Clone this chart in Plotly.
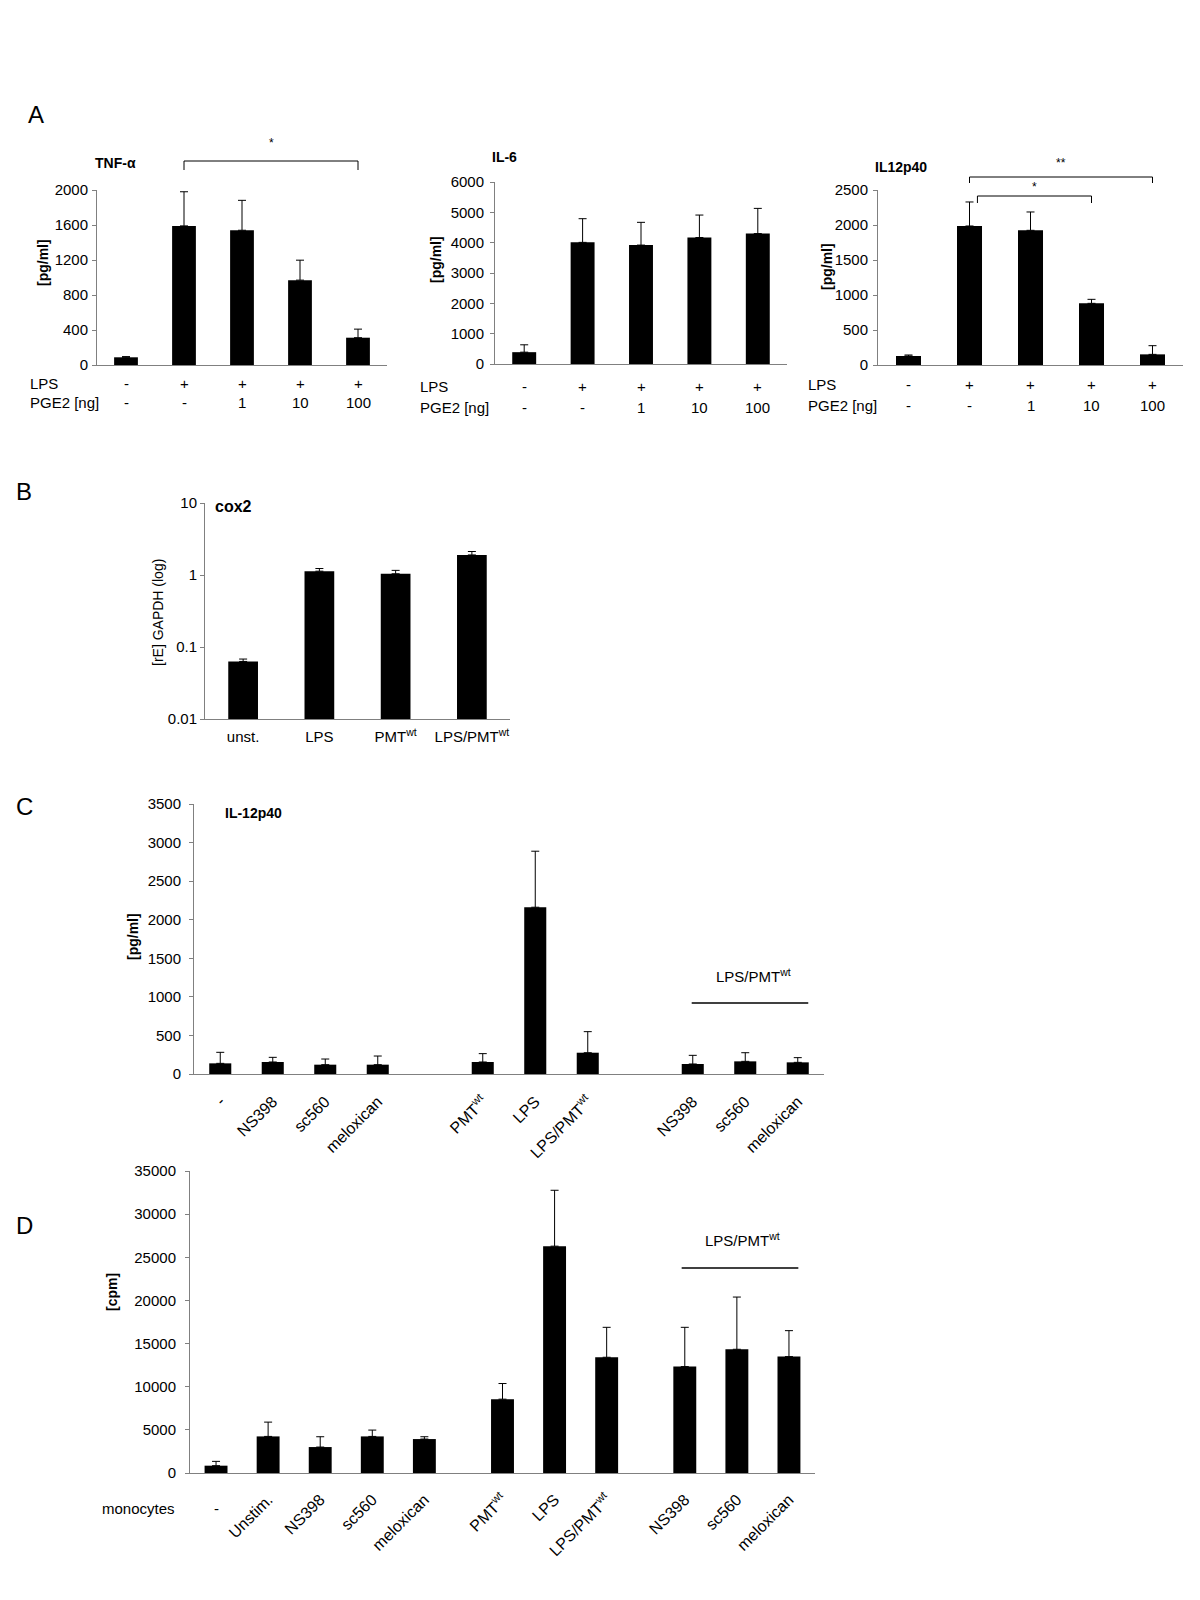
import plotly.graph_objects as go

# ---------------- DATA ----------------
# Panel A (ELISA, PGE2 titration)
A_lps = ["-", "+", "+", "+", "+"]
A_pge2 = ["-", "-", "1", "10", "100"]
tnf_mean = [88, 1590, 1540, 970, 312]
tnf_err = [8, 390, 342, 228, 98]
il6_mean = [390, 4010, 3920, 4170, 4300]
il6_err = [243, 780, 750, 740, 830]
il12_mean = [129, 1986, 1924, 881, 152]
il12_err = [14, 343, 262, 57, 124]

# Panel B (cox2 qPCR, log scale)
cox2_labels = ["unst.", "LPS", "PMT<sup>wt</sup>", "LPS/PMT<sup>wt</sup>"]
cox2_mean = [0.063, 1.13, 1.04, 1.90]
cox2_err = [0.005, 0.10, 0.12, 0.22]

# Panel C (IL-12p40)
C_labels = ["-", "NS398", "sc560", "meloxican", "PMT<sup>wt</sup>", "LPS",
            "LPS/PMT<sup>wt</sup>", "NS398", "sc560", "meloxican"]
C_mean = [138, 156, 121, 121, 156, 2162, 276, 130, 164, 151]
C_err = [143, 60, 73, 112, 108, 726, 273, 112, 112, 61]

# Panel D (proliferation, cpm)
D_labels = ["-", "Unstim.", "NS398", "sc560", "meloxican", "PMT<sup>wt</sup>", "LPS",
            "LPS/PMT<sup>wt</sup>", "NS398", "sc560", "meloxican"]
D_mean = [848, 4241, 3007, 4241, 3933, 8558, 26289, 13414, 12335, 14339, 13491]
D_err = [501, 1657, 1195, 732, 269, 1811, 6476, 3469, 4548, 6052, 3007]

# ---------------- LAYOUT HELPERS ----------------
W, H = 1200, 1600
OFF = 8  # page body margin offset
C_slots = [0, 1, 2, 3, 5, 6, 7, 9, 10, 11]
D_slots = [0, 1, 2, 3, 4, 5.5, 6.5, 7.5, 9, 10, 11]
FONT = "Liberation Sans, Arial, sans-serif"
AXC = "#808080"


def px(x):
    return (x - OFF) / W


def py(y):
    return 1 - (y - OFF) / H


fig = go.Figure()


def add_bars(xs, ys, err, n, width):
    fig.add_trace(go.Bar(
        x=xs, y=ys, width=width,
        marker=dict(color="black", line=dict(width=0)),
        error_y=dict(type="data", symmetric=False, array=err,
                     arrayminus=[0] * len(ys), color="black",
                     thickness=1, width=4),
        xaxis="x" + ("" if n == 1 else str(n)),
        yaxis="y" + ("" if n == 1 else str(n)),
        showlegend=False, hoverinfo="skip"))


def xax(n, x0, x1, rng, **kw):
    d = dict(domain=[px(x0), px(x1)], anchor="y" + ("" if n == 1 else str(n)),
             range=rng, showline=True, linecolor=AXC, linewidth=1,
             showgrid=False, zeroline=False, ticks="", fixedrange=True,
             automargin=False,
             tickfont=dict(family=FONT, size=15, color="black"))
    d.update(kw)
    return d


def yax(n, y_top, y_bottom, rng, **kw):
    d = dict(domain=[py(y_bottom), py(y_top)], anchor="x" + ("" if n == 1 else str(n)),
             range=rng, showline=True, linecolor=AXC, linewidth=1,
             showgrid=False, zeroline=False, ticks="outside", ticklen=4,
             tickcolor=AXC, fixedrange=True, automargin=False,
             tickfont=dict(family=FONT, size=15, color="black"))
    d.update(kw)
    return d


layout = dict(width=W, height=H, autosize=False,
              margin=dict(l=0, r=0, t=0, b=0, pad=0, autoexpand=False),
              paper_bgcolor="white", plot_bgcolor="white", showlegend=False,
              font=dict(family=FONT, size=15, color="black"))

annotations = []
shapes = []


def ann(text, x, y, size=15, xanchor="center", yanchor="middle", angle=0,
        xref="paper", yref="paper"):
    annotations.append(dict(text=text, x=x, y=y, xref=xref, yref=yref,
                            showarrow=False, xanchor=xanchor, yanchor=yanchor,
                            textangle=angle,
                            font=dict(family=FONT, size=size, color="black")))


# ---------------- PANEL A ----------------
A_x = list(range(len(A_lps)))
panelsA = [
    # n, x0, x1, ytop, ybot, ymax, dtick, mean, err, title, title_x, title_y, ylab_x, ylab_y, lps_y, row_label_x, standoff
    (1, 97, 387, 190, 365, 2000, 400, tnf_mean, tnf_err, "TNF-α", 93, 163, 43, 263, 383, 28, 1),
    (2, 495, 787, 182, 364, 6000, 1000, il6_mean, il6_err, "IL-6", 490, 157, 436, 260, 387, 418, 3),
    (3, 878, 1183, 190, 365, 2500, 500, il12_mean, il12_err, "IL12p40", 873, 167, 827, 267, 385, 806, 2),
]
for (n, x0, x1, yt, yb, ymax, dt, mean, err, title, tx, ty, ylx, yly, rowy, rlx, so) in panelsA:
    add_bars(A_x, mean, err, n, 0.41)
    s = "" if n == 1 else str(n)
    layout["xaxis" + s] = xax(n, x0, x1, [-0.5, len(A_x) - 0.5], showticklabels=False)
    layout["yaxis" + s] = yax(n, yt, yb, [0, ymax], dtick=dt, ticklabelstandoff=so)
    ann("<b>%s</b>" % title, px(tx), py(ty), size=14, xanchor="left")
    ann("<b>[pg/ml]</b>", px(ylx), py(yly), size=14, angle=-90)
    ann("LPS", px(rlx), py(rowy), xanchor="left")
    ann("PGE2 [ng]", px(rlx), py(rowy + 20), xanchor="left")
    for i in A_x:
        ann(A_lps[i], i, py(rowy), xref="x" + s)
        ann(A_pge2[i], i, py(rowy + 20), xref="x" + s)


# significance brackets
def bracket(xref, xa, xb, ytop, drop, star, star_y):
    shapes.append(dict(type="line", xref=xref, yref="paper", x0=xa, x1=xb,
                       y0=py(ytop), y1=py(ytop), line=dict(color="black", width=1)))
    for xv in (xa, xb):
        shapes.append(dict(type="line", xref=xref, yref="paper", x0=xv, x1=xv,
                           y0=py(ytop), y1=py(ytop + drop), line=dict(color="black", width=1)))
    ann(star, (xa + xb) / 2, py(star_y), size=12, xref=xref)


bracket("x", 1, 4, 161, 9, "*", 143)
bracket("x3", 1, 4, 177, 6, "**", 163)
bracket("x3", 1.13, 3, 196, 7, "*", 187)

ann("A", px(26), py(114), size=24, xanchor="left")
ann("B", px(14), py(491), size=24, xanchor="left")
ann("C", px(14), py(806), size=24, xanchor="left")
ann("D", px(14), py(1225), size=24, xanchor="left")

# ---------------- PANEL B ----------------
B_x = list(range(len(cox2_mean)))
add_bars(B_x, cox2_mean, cox2_err, 4, 0.39)
layout["xaxis4"] = xax(4, 205, 510, [-0.5, len(B_x) - 0.5],
                       tickvals=B_x, ticktext=cox2_labels, ticklabelstandoff=4)
layout["yaxis4"] = yax(4, 503, 719, [-2, 1], type="log",
                       tickvals=[0.01, 0.1, 1, 10], ticktext=["0.01", "0.1", "1", "10"])
ann("<b>cox2</b>", px(213), py(506), size=16, xanchor="left")
ann("[rE] GAPDH (log)", px(158), py(613), size=14, angle=-90)

# ---------------- PANEL C ----------------
add_bars(C_slots, C_mean, C_err, 5, 0.42)
layout["xaxis5"] = xax(5, 194, 824, [-0.5, 11.5], tickvals=C_slots,
                       ticktext=C_labels, tickangle=-45, ticklabelstandoff=11,
                       tickfont=dict(family=FONT, size=16, color="black"))
layout["yaxis5"] = yax(5, 804, 1074, [0, 3500], dtick=500, ticklabelstandoff=5)
ann("<b>IL-12p40</b>", px(223), py(813), size=14, xanchor="left")
ann("<b>[pg/ml]</b>", px(133), py(937), size=14, angle=-90)
shapes.append(dict(type="line", xref="x5", yref="paper", x0=C_slots[7] - 0.02,
                   x1=C_slots[9] + 0.2, y0=py(1003), y1=py(1003),
                   line=dict(color="black", width=1.5)))
ann("LPS/PMT<sup>wt</sup>", (C_slots[7] + C_slots[9]) / 2 + 0.15, py(975), xref="x5")

# ---------------- PANEL D ----------------
add_bars(D_slots, D_mean, D_err, 6, 0.44)
D_ticktext = [""] + D_labels[1:]
layout["xaxis6"] = xax(6, 190, 815, [-0.5, 11.5], tickvals=D_slots,
                       ticktext=D_ticktext, tickangle=-45, ticklabelstandoff=10,
                       tickfont=dict(family=FONT, size=16, color="black"))
layout["yaxis6"] = yax(6, 1171, 1473, [0, 35000], dtick=5000, tickformat="d",
                       ticklabelstandoff=6)
ann("<b>[cpm]</b>", px(112), py(1292), size=14, angle=-90)
ann("monocytes", px(100), py(1508), xanchor="left")
ann(D_labels[0], D_slots[0], py(1508), xref="x6")
shapes.append(dict(type="line", xref="x6", yref="paper", x0=D_slots[8] - 0.06,
                   x1=D_slots[10] + 0.18, y0=py(1268), y1=py(1268),
                   line=dict(color="black", width=1.5)))
ann("LPS/PMT<sup>wt</sup>", (D_slots[8] + D_slots[10]) / 2 + 0.1, py(1239), xref="x6")

layout["annotations"] = annotations
layout["shapes"] = shapes
fig.update_layout(**layout)
fig.write_html("out.html")
